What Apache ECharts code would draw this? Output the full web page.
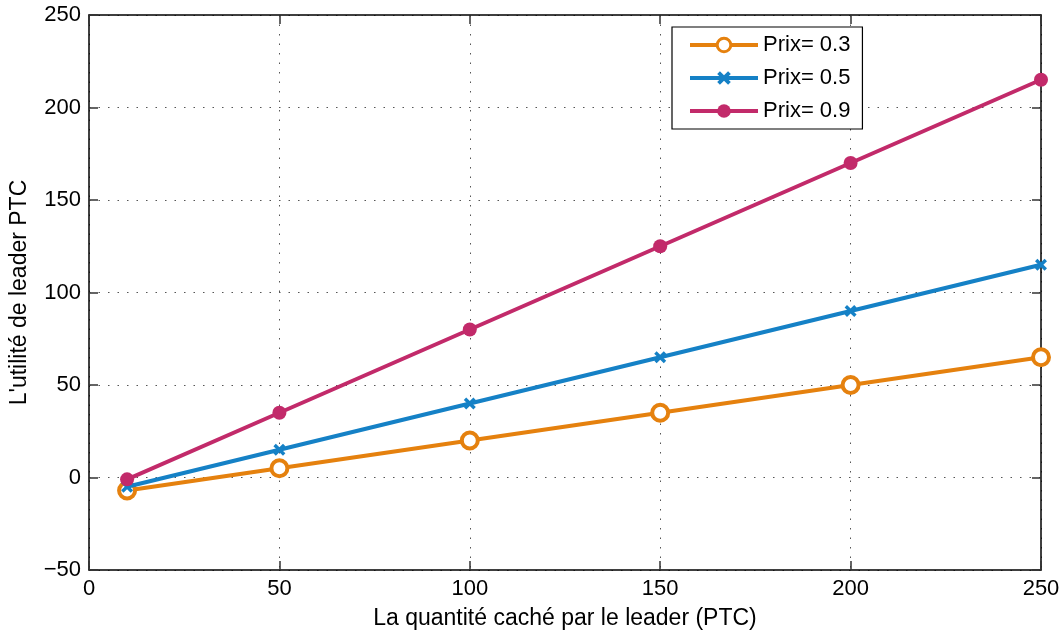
<!DOCTYPE html>
<html>
<head>
<meta charset="utf-8">
<script src="https://cdn.jsdelivr.net/npm/echarts@6/dist/echarts.min.js"></script>
<style>
  html, body { margin: 0; padding: 0; background: #fff; }
  #chart { width: 1061px; height: 632px; }
</style>
</head>
<body>
<div id="chart"></div>
<script>
// Hidden quantity held by the leader (PTC)
const quantities = [10, 50, 100, 150, 200, 250];
// Leader utility for each price level
const utilityPrix03 = [-7, 5, 20, 35, 50, 65];
const utilityPrix05 = [-5, 15, 40, 65, 90, 115];
const utilityPrix09 = [-1, 35, 80, 125, 170, 215];

const seriesNames = ['Prix= 0.3', 'Prix= 0.5', 'Prix= 0.9'];
const xTicks = [0, 50, 100, 150, 200, 250];
const yTicks = [-50, 0, 50, 100, 150, 200, 250];

const FONT = 'Liberation Sans, Arial, Helvetica, sans-serif';
const FS = 22;
const NAME_FS = 23;
const crossSymbol = 'path://M2,0 L5,3 L8,0 L10,2 L7,5 L10,8 L8,10 L5,7 L2,10 L0,8 L3,5 L0,2 Z';
const COLORS = ['#e5810e', '#1581c6', '#c22a6a'];
const LW = 4;

const pairs = (ys) => quantities.map((x, i) => [x, ys[i]]);

const gridLine = { show: true, lineStyle: { color: '#555', width: 1, type: [1.5, 8] } };
const frameLine = { show: true, onZero: false, lineStyle: { color: '#000', width: 1.5 } };
const innerTick = { show: true, inside: true, length: 9, lineStyle: { color: '#333', width: 1.5 } };

const chart = echarts.init(document.getElementById('chart'), null, { renderer: 'canvas' });
chart.setOption({
  animation: false,
  backgroundColor: '#fff',
  textStyle: { fontFamily: FONT },
  grid: { left: 89, top: 15, right: 20, bottom: 62, containLabel: false, outerBoundsMode: 'none' },
  legend: {
    data: [
      { name: seriesNames[0], itemStyle: { color: '#fff', borderColor: COLORS[0], borderWidth: 3 }, lineStyle: { color: COLORS[0], width: LW } },
      { name: seriesNames[1], itemStyle: { color: COLORS[1], borderWidth: 0 }, lineStyle: { color: COLORS[1], width: LW } },
      { name: seriesNames[2], itemStyle: { color: COLORS[2], borderWidth: 0 }, lineStyle: { color: COLORS[2], width: LW } }
    ],
    orient: 'vertical',
    left: 672,
    top: 27,
    itemWidth: 68,
    itemHeight: 17,
    itemGap: 11,
    padding: [7, 12, 7, 16],
    backgroundColor: '#fff',
    borderColor: '#000',
    borderWidth: 1.2,
    borderRadius: 0,
    textStyle: { fontSize: FS, color: '#000', fontFamily: FONT }
  },
  xAxis: [
    {
      type: 'value', min: 0, max: 250, interval: 50,
      name: 'La quantité caché par le leader (PTC)',
      nameLocation: 'middle', nameGap: 37,
      nameTextStyle: { fontSize: NAME_FS, color: '#000', fontFamily: FONT },
      axisLine: frameLine, axisTick: innerTick,
      axisLabel: { fontSize: FS, color: '#000', margin: 8, fontFamily: FONT,
        formatter: (v) => xTicks.includes(v) ? String(v) : '' },
      splitLine: gridLine
    },
    {
      type: 'value', position: 'top', min: 0, max: 250, interval: 50,
      axisLine: frameLine, axisTick: innerTick,
      axisLabel: { show: false }, splitLine: { show: false }
    }
  ],
  yAxis: [
    {
      type: 'value', min: -50, max: 250, interval: 50,
      name: "L'utilité de leader PTC",
      nameLocation: 'middle', nameGap: 58, nameRotate: 90,
      nameTextStyle: { fontSize: NAME_FS, color: '#000', fontFamily: FONT },
      axisLine: frameLine, axisTick: innerTick,
      axisLabel: { fontSize: FS, color: '#000', margin: 8, fontFamily: FONT,
        formatter: (v) => yTicks.includes(v) ? (v < 0 ? '\u2212' + Math.abs(v) : String(v)) : '' },
      splitLine: gridLine
    },
    {
      type: 'value', position: 'right', min: -50, max: 250, interval: 50,
      axisLine: frameLine, axisTick: innerTick,
      axisLabel: { show: false }, splitLine: { show: false }
    }
  ],
  series: [
    {
      name: seriesNames[0], type: 'line', data: pairs(utilityPrix03),
      symbol: 'circle', symbolSize: 16, showAllSymbol: true,
      itemStyle: { color: '#fff', borderColor: COLORS[0], borderWidth: 4 },
      lineStyle: { color: COLORS[0], width: LW },
      z: 3
    },
    {
      name: seriesNames[1], type: 'line', data: pairs(utilityPrix05),
      symbol: crossSymbol, symbolSize: 12,
      itemStyle: { color: COLORS[1] },
      lineStyle: { color: COLORS[1], width: LW },
      z: 4
    },
    {
      name: seriesNames[2], type: 'line', data: pairs(utilityPrix09),
      symbol: 'circle', symbolSize: 14,
      itemStyle: { color: COLORS[2] },
      lineStyle: { color: COLORS[2], width: LW },
      z: 5
    }
  ]
});
</script>
</body>
</html>
